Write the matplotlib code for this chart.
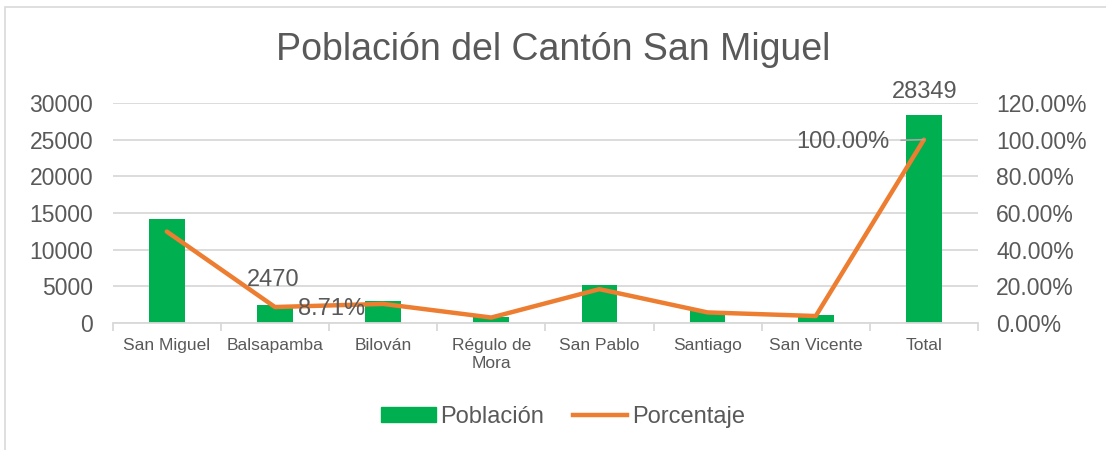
import matplotlib.pyplot as plt
from matplotlib.patches import Rectangle, Patch
from matplotlib.lines import Line2D
from matplotlib.ticker import FuncFormatter

plt.rcParams['font.family'] = ['Liberation Sans', 'DejaVu Sans']

# datos de población por parroquia
parroquias = ["San Miguel", "Balsapamba", "Bilován", "Régulo de\nMora",
              "San Pablo", "Santiago", "San Vicente", "Total"]
poblacion = [14136, 2470, 2952, 845, 5233, 1636, 1077, 28349]
total = poblacion[-1]
porcentaje = [p / total for p in poblacion]

VERDE = "#00B050"
NARANJA = "#ED7D31"
GRIS = "#595959"
REJILLA = "#D9D9D9"

fig = plt.figure(figsize=(11.06, 4.5), dpi=100)
W, H = 1106, 450

# marco del gráfico
fig.patches.append(Rectangle((5 / W, -0.1), 1.2, 1 - 7 / H + 0.1,
                             transform=fig.transFigure, fill=False,
                             edgecolor=REJILLA, linewidth=1.2))

ax = fig.add_axes([112.7 / W, 1 - 323 / H, (978 - 112.7) / W, 220 / H])
x = list(range(len(parroquias)))
ax.bar(x, poblacion, width=0.33, color=VERDE, zorder=2)
ax.set_xlim(-0.5, len(parroquias) - 0.5)
ax.set_ylim(0, 30000)
ax.set_yticks(range(0, 30001, 5000))
ax.grid(axis="y", color=REJILLA, linewidth=1.3, zorder=0)
for s in ["top", "right", "left"]:
    ax.spines[s].set_visible(False)
ax.spines["bottom"].set_color(REJILLA)
ax.spines["bottom"].set_linewidth(1.3)
ax.set_xticks(x)
ax.set_xticklabels(parroquias, fontsize=12.5, color=GRIS, linespacing=1.2)
ax.set_xticks([i - 0.5 for i in range(len(parroquias) + 1)], minor=True)
ax.tick_params(axis="x", which="major", length=0, pad=11)
ax.tick_params(axis="x", which="minor", length=6, color=REJILLA, width=1.3)
ax.tick_params(axis="y", length=0, labelsize=16.5, labelcolor=GRIS, pad=14)

ax2 = ax.twinx()
ax2.plot(x, porcentaje, color=NARANJA, linewidth=3.2, solid_capstyle="round",
         solid_joinstyle="round")
ax2.set_ylim(0, 1.2)
ax2.set_yticks([i * 0.2 for i in range(7)])
ax2.yaxis.set_major_formatter(FuncFormatter(lambda v, _: f"{v * 100:.2f}%"))
ax2.tick_params(axis="y", length=0, labelsize=16.5, labelcolor=GRIS, pad=13)
for s in ax2.spines.values():
    s.set_visible(False)

# etiquetas de datos
ax.annotate(str(poblacion[1]), xy=(1, poblacion[1]), xytext=(-2, 14),
            textcoords="offset pixels", ha="center", va="bottom",
            fontsize=17, color=GRIS)
ax.annotate(str(poblacion[7]), xy=(7, poblacion[7]), xytext=(1, 12),
            textcoords="offset pixels", ha="center", va="bottom",
            fontsize=17, color=GRIS)
ax2.annotate(f"{porcentaje[1] * 100:.2f}%", xy=(1, porcentaje[1]),
             xytext=(23, -2), textcoords="offset pixels", ha="left",
             va="center", fontsize=17, color=GRIS)
ax2.annotate(f"{porcentaje[7] * 100:.2f}%", xy=(7, porcentaje[7]),
             xytext=(-34, -2), textcoords="offset pixels", ha="right",
             va="center", fontsize=17, color=GRIS,
             arrowprops=dict(arrowstyle="-", color="#A6A6A6", lw=1.2,
                             shrinkA=6, shrinkB=0))

fig.text(0.5, 1 - 50 / H, "Población del Cantón San Miguel", ha="center",
         va="center", fontsize=27, color=GRIS)

handles = [Patch(facecolor=VERDE, edgecolor=VERDE),
           Line2D([0], [0], color=NARANJA, linewidth=3.2)]
fig.legend(handles, ["Población", "Porcentaje"], loc="center",
           bbox_to_anchor=(0.5 + 10 / W, 1 - 417 / H), ncol=2, frameon=False,
           fontsize=17, labelcolor=GRIS, handlelength=2.3, handleheight=0.6,
           handletextpad=0.2, columnspacing=1.2)

fig.savefig("out.png", dpi=100)
